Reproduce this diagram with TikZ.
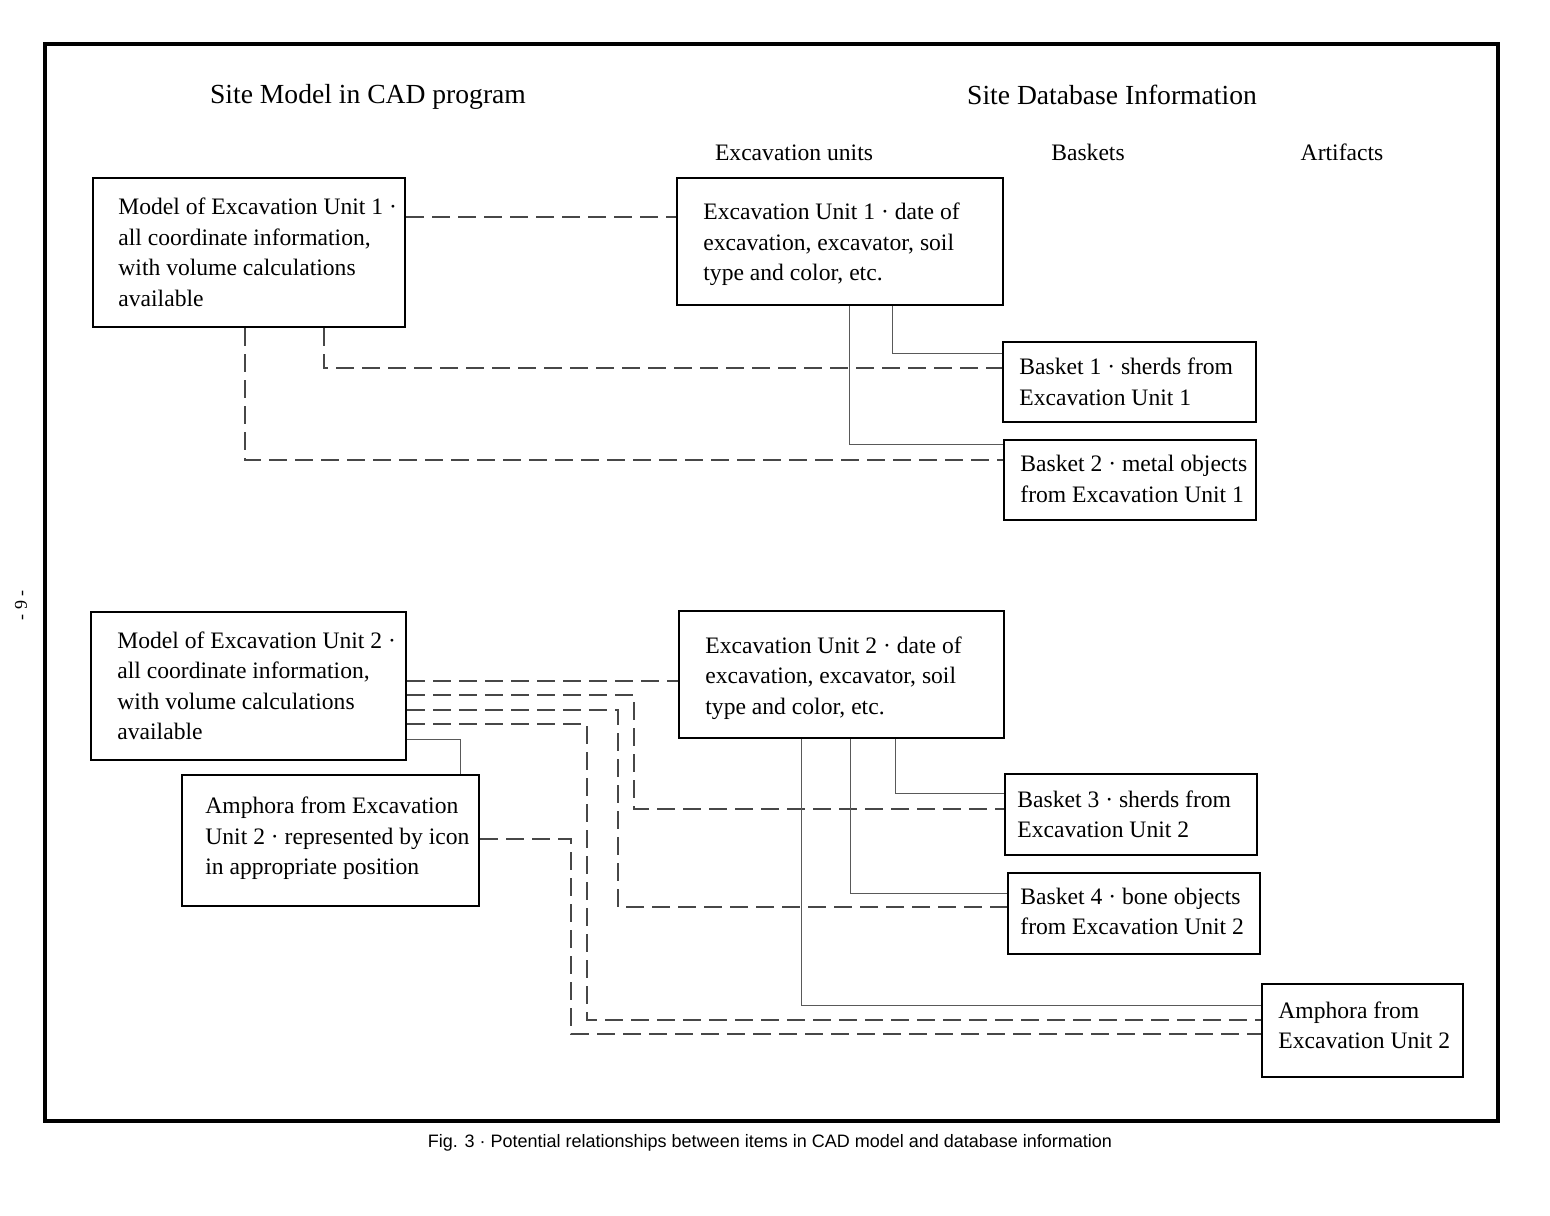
\documentclass[tikz,border=0pt]{standalone}
\usepackage{fontspec}
\setmainfont{Liberation Serif}
\newfontfamily\capfont{Liberation Sans}
\begin{document}
\begin{tikzpicture}[x=0.5pt,y=-0.5pt,
  box/.style={draw, line width=1pt, inner sep=0pt},
  txt/.style={anchor=west, align=left, inner sep=0pt, font=\fontsize{11.8}{15.25}\selectfont},
  head/.style={inner sep=0pt, font=\fontsize{13.8}{16}\selectfont},
  colhead/.style={inner sep=0pt, font=\fontsize{11.8}{14}\selectfont},
  dsh/.style={draw=black!72, line width=0.55pt, dash pattern=on 9pt off 4pt},
  sol/.style={draw=black!65, line width=0.45pt}]
\useasboundingbox (0,0) rectangle (1550,1215);
% frame
\draw[line width=2pt] (45,44) rectangle (1498,1121);
\node[rotate=90, inner sep=0pt, font=\fontsize{9}{10}\selectfont] (pg) at (21,605) {- 9 -};
% headings
\node[head] (h1) at (368,97) {Site Model in CAD program};
\node[head] (h2) at (1112,95) {Site Database Information};
\node[colhead] (c1) at (794,153) {Excavation units};
\node[colhead] (c2) at (1088,152) {Baskets};
\node[colhead] (c3) at (1342,152) {Artifacts};
% boxes
\node[box, minimum width=156pt, minimum height=74.5pt] (a1) at (249,252.5) {};
\node[box, minimum width=163pt, minimum height=63.5pt] (e1) at (840,241.5) {};
\node[box, minimum width=126.5pt, minimum height=40pt] (b1) at (1129.5,382) {};
\node[box, minimum width=126pt, minimum height=40pt] (b2) at (1130,480) {};
\node[box, minimum width=157.5pt, minimum height=74pt] (a2) at (248.5,686) {};
\node[box, minimum width=162.5pt, minimum height=63.5pt] (e2) at (841.5,674.5) {};
\node[box, minimum width=148.5pt, minimum height=65.5pt] (i2) at (330.5,840.5) {};
\node[box, minimum width=126pt, minimum height=40.5pt] (b3) at (1131,814.5) {};
\node[box, minimum width=126pt, minimum height=40.5pt] (b4) at (1134,913.5) {};
\node[box, minimum width=100.5pt, minimum height=46.5pt] (aa) at (1362.5,1030.5) {};
% texts
\node[txt] (a1t) at ([xshift=13pt]a1.west) {Model of Excavation Unit 1 ·\\all coordinate information,\\with volume calculations\\available};
\node[txt] (e1t) at ([xshift=13.5pt,yshift=-1.5pt]e1.west) {Excavation Unit 1 · date of\\excavation, excavator, soil\\type and color, etc.};
\node[txt] (b1t) at ([xshift=8.5pt]b1.west) {Basket 1 · sherds from\\Excavation Unit 1};
\node[txt] (b2t) at ([xshift=8.5pt,yshift=0.5pt]b2.west) {Basket 2 · metal objects\\from Excavation Unit 1};
\node[txt] (a2t) at ([xshift=13.5pt]a2.west) {Model of Excavation Unit 2 ·\\all coordinate information,\\with volume calculations\\available};
\node[txt] (e2t) at ([xshift=13.5pt,yshift=-1.75pt]e2.west) {Excavation Unit 2 · date of\\excavation, excavator, soil\\type and color, etc.};
\node[txt] (i2t) at ([xshift=12pt,yshift=1pt]i2.west) {Amphora from Excavation\\Unit 2 · represented by icon\\in appropriate position};
\node[txt] (b3t) at ([xshift=6.5pt]b3.west) {Basket 3 · sherds from\\Excavation Unit 2};
\node[txt] (b4t) at ([xshift=6.5pt,yshift=1pt]b4.west) {Basket 4 · bone objects\\from Excavation Unit 2};
\node[txt] (aat) at ([xshift=8.5pt,yshift=2.5pt]aa.west) {Amphora from\\Excavation Unit 2};
% upper connectors
\draw[dsh] (a1.east |- 0,217) -- (e1.west |- 0,217);
\draw[dsh] (a1.south -| 324,0) |- (b1.west |- 0,368);
\draw[dsh] (a1.south -| 245,0) |- (b2.west |- 0,460);
\draw[sol] (e1.south -| 892,0) |- (b1.west |- 0,353);
\draw[sol] (e1.south -| 849,0) |- (b2.west |- 0,444);
% lower connectors
\draw[dsh] (a2.east |- 0,681) -- (e2.west |- 0,681);
\draw[dsh] (a2.east |- 0,695) -- (634,695) -- (634,809) -- (b3.west |- 0,809);
\draw[dsh] (a2.east |- 0,710) -- (618,710) -- (618,907) -- (b4.west |- 0,907);
\draw[dsh] (a2.east |- 0,724) -- (587,724) -- (587,1020) -- (aa.west |- 0,1020);
\draw[sol] (a2.east |- 0,739) -| (i2.north -| 460,0);
\draw[dsh] (i2.east |- 0,839) -- (571,839) -- (571,1034) -- (aa.west |- 0,1034);
\draw[sol] (e2.south -| 895,0) |- (b3.west |- 0,793);
\draw[sol] (e2.south -| 850,0) |- (b4.west |- 0,893);
\draw[sol] (e2.south -| 801,0) |- (aa.west |- 0,1005);
% caption
\node[inner sep=0pt, font=\capfont\fontsize{9}{11}\selectfont] (cap) at (770,1143) {Fig. 3 · Potential relationships between items in CAD model and database information};
\end{tikzpicture}
\end{document}
